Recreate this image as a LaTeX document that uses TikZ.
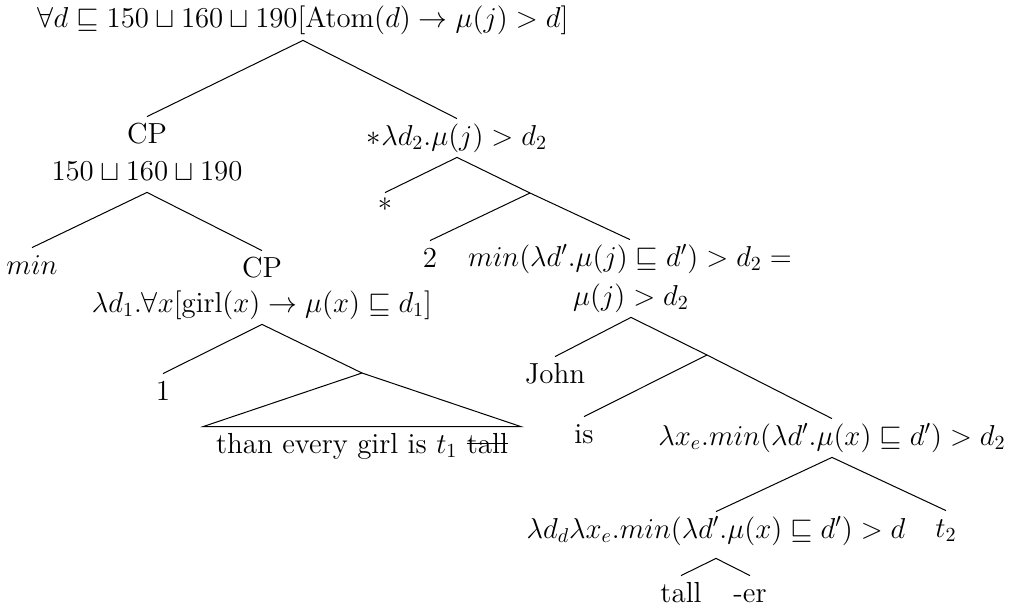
\documentclass[tikz,border=0pt]{standalone}
\usetikzlibrary{calc}
\newcommand{\strikeword}[1]{\setbox0\hbox{#1}\rlap{\rule[0.3em]{\wd0}{0.05em}}#1}

\begin{document}
\begin{tikzpicture}[x=0.5pt, y=-0.5pt, font=\fontsize{14.5pt}{17pt}\selectfont,
  lbl/.style={anchor=base, inner sep=0pt, text height=13pt, text depth=6pt},
  br/.style={line width=0.5pt}]

\useasboundingbox (0,0) rectangle (1011,610);

% --- top ---
\node[lbl] (root) at (303,28) {$\forall d \sqsubseteq 150 \sqcup 160 \sqcup 190[\mathrm{Atom}(d) \rightarrow \mu(j) > d]$};

% --- left: the comparative clause ---
\node[lbl] (cpl) at (147,143) {CP};
\node[lbl] (cplv) at (147,180) {$150 \sqcup 160 \sqcup 190$};
\node[lbl] (minl) at (32,274) {$min$};
\node[lbl] (cpr) at (262,277) {CP};
\node[lbl] (cprv) at (262,312) {$\lambda d_1.\forall x[\mathrm{girl}(x) \rightarrow \mu(x) \sqsubseteq d_1]$};
\node[lbl] (one) at (163,400) {1};
\coordinate (c1) at (362,373);
\node[lbl, minimum width=158.5pt] (than) at (362,453) {than every girl is $t_1$ \strikeword{tall}};

% --- right: the main clause ---
\node[lbl] (star) at (457,145) {$*\lambda d_2.\mu(j) > d_2$};
\node[lbl] (ast) at (385,219) {*};
\coordinate (c2) at (530,193);
\node[lbl] (two) at (430,267) {2};
\node[lbl] (cmp) at (630,266) {$min(\lambda d'.\mu(j) \sqsubseteq d') > d_2 =$};
\node[lbl] (cmpb) at (631,305) {$\mu(j) > d_2$};
\node[lbl] (john) at (555,383) {John};
\coordinate (c3) at (707,355);
\node[lbl] (is) at (584,443) {is};
\node[lbl] (lxe) at (832,445) {$\lambda x_e.min(\lambda d'.\mu(x) \sqsubseteq d') > d_2$};
\node[lbl, text depth=10pt] (ldd) at (716,538) {$\lambda d_d\lambda x_e.min(\lambda d'.\mu(x) \sqsubseteq d') > d$};
\node[lbl] (t2) at (946,537) {$t_2$};
\node[lbl] (tall) at (681,602) {tall};
\node[lbl] (er) at (750,602) {-er};

% --- branches ---
\draw[br] (root.south) -- (cpl.north);
\draw[br] (root.south) -- (star.north);
\draw[br] (cplv.south) -- (minl.north);
\draw[br] (cplv.south) -- (cpr.north);
\draw[br] (cprv.south) -- (one.north);
\draw[br] (cprv.south) -- (c1);
\draw[br] (c1) -- (than.north west) -- (than.north east) -- cycle;
\draw[br] (star.south) -- (ast.north);
\draw[br] (star.south) -- (c2) -- (cmp.north);
\draw[br] (c2) -- (two.north);
\draw[br] (cmpb.south) -- (john.north);
\draw[br] (cmpb.south) -- (c3) -- (lxe.north);
\draw[br] (c3) -- (is.north);
\draw[br] (lxe.south) -- (ldd.north);
\draw[br] (lxe.south) -- (t2.north);
\draw[br] (ldd.south) -- (tall.north);
\draw[br] (ldd.south) -- (er.north);
\end{tikzpicture}
\end{document}
